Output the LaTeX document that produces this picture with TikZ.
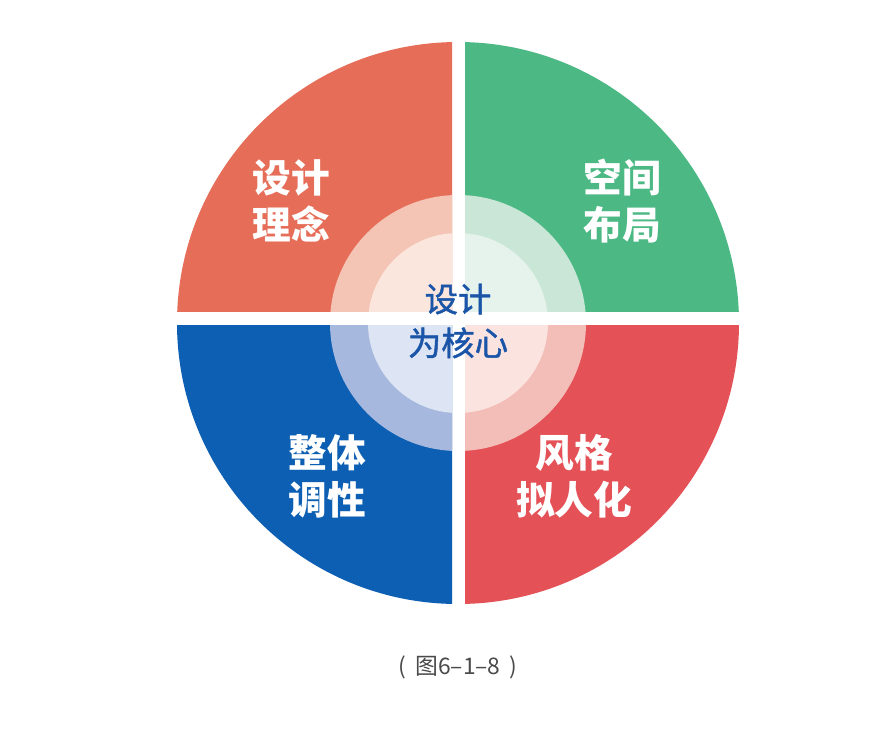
\documentclass[tikz,border=0pt]{standalone}
\usepackage{fontspec}
\newfontfamily\cjk{Noto Sans CJK SC}
\newfontfamily\cjkmid[FakeBold=1.3]{Noto Sans CJK SC}
\definecolor{coralA}{HTML}{E66E59}
\definecolor{coralB}{HTML}{F4C4B5}
\definecolor{coralC}{HTML}{FBE6DE}
\definecolor{greenA}{HTML}{4CB985}
\definecolor{greenB}{HTML}{CAE6D6}
\definecolor{greenC}{HTML}{E6F3EC}
\definecolor{blueA}{HTML}{0C5FB2}
\definecolor{blueB}{HTML}{A6B8DE}
\definecolor{blueC}{HTML}{DDE4F3}
\definecolor{redA}{HTML}{E45258}
\definecolor{redB}{HTML}{F2BEB7}
\definecolor{redC}{HTML}{FBE3DF}
\definecolor{coreblue}{HTML}{1A55A8}
\definecolor{capgray}{HTML}{4A4A4A}
\tikzset{
  quad/.style={text=white, align=center, font=\cjk\bfseries\fontsize{22}{26.6}\selectfont},
  core/.style={text=coreblue, align=center, font=\cjkmid\fontsize{19}{25}\selectfont},
  figcaption/.style={text=capgray, font=\cjk\fontsize{13}{15}\selectfont}
}
\begin{document}
\begin{tikzpicture}[x=0.02cm,y=-0.02cm]
\useasboundingbox (0,0) rectangle (896,748);
\fill[white] (0,0) rectangle (896,748);

\begin{scope}
\clip (0,0) rectangle (452,311);
\fill[coralA] (458,323) circle[radius=281];
\fill[coralB] (458,323) circle[radius=128];
\fill[coralC] (458,323) circle[radius=90];
\end{scope}

\begin{scope}
\clip (465,0) rectangle (896,311);
\fill[greenA] (458,323) circle[radius=281];
\fill[greenB] (458,323) circle[radius=128];
\fill[greenC] (458,323) circle[radius=90];
\end{scope}

\begin{scope}
\clip (0,325) rectangle (452,748);
\fill[blueA] (458,323) circle[radius=281];
\fill[blueB] (458,323) circle[radius=128];
\fill[blueC] (458,323) circle[radius=90];
\end{scope}

\begin{scope}
\clip (465,325) rectangle (896,748);
\fill[redA] (458,323) circle[radius=281];
\fill[redB] (458,323) circle[radius=128];
\fill[redC] (458,323) circle[radius=90];
\end{scope}

\node[quad] (idea) at (291,201) {设计\\理念};
\node[quad] (space) at (622,201) {空间\\布局};
\node[quad] (tone) at (327,476) {整体\\调性};
\node[quad] (style) at (574,476) {风格\\拟人化};
\node[core] (center) at (458,321) {设计\\为核心};

\node[figcaption] (caption) at (458,667) {(\hspace{0.4em}图6–1–8\hspace{0.4em})};
\end{tikzpicture}
\end{document}
